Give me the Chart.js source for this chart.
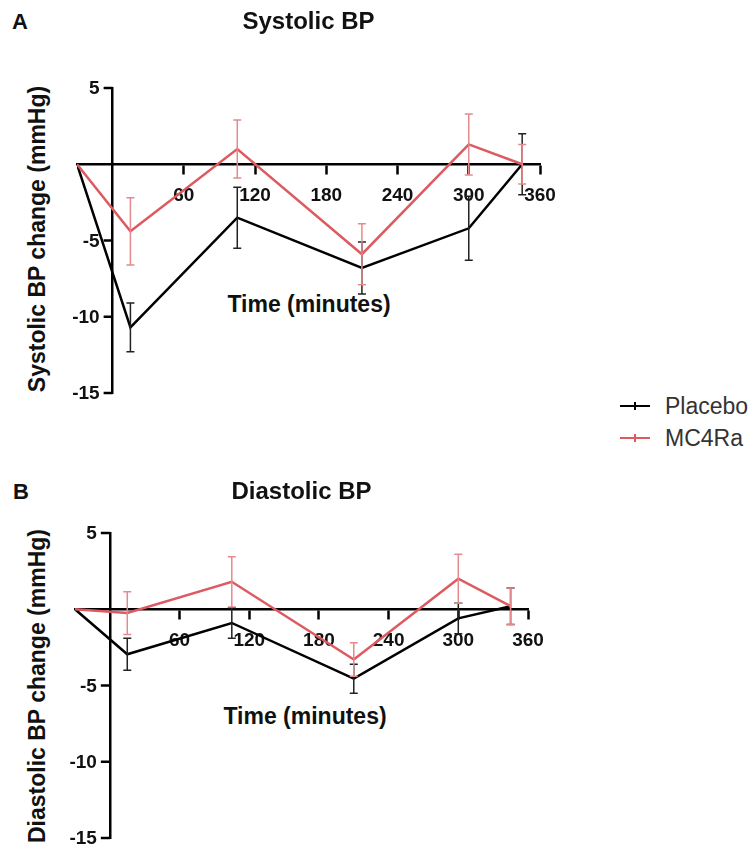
<!DOCTYPE html>
<html>
<head>
<meta charset="utf-8">
<script src="https://cdn.jsdelivr.net/npm/chart.js@4.4.1/dist/chart.umd.min.js"></script>
<style>
  body { margin: 0; background: #fff; width: 753px; height: 847px; position: relative; overflow: hidden;
         font-family: "Liberation Sans", Arial, sans-serif; }
  canvas { position: absolute; left: 0; }
  .txt { position: absolute; font-weight: bold; color: #111; white-space: nowrap; transform: translate(-50%, -50%); }
  .rot { transform: translate(-50%, -50%) rotate(-90deg); }
  .leg { position: absolute; left: 620px; font-size: 23px; color: #333; white-space: nowrap; }
  .leg i { display: inline-block; width: 30px; height: 2px; vertical-align: middle; margin-right: 15px; position: relative; top: -2px; }
  .leg i b { position: absolute; left: 14px; top: -3px; width: 2px; height: 8px; background: inherit; }
</style>
</head>
<body>
<div class="txt" style="left:20px;top:22px;font-size:22px">A</div>
<div class="txt" style="left:21px;top:492px;font-size:22px">B</div>
<div class="txt rot" style="left:37px;top:239px;font-size:23px">Systolic BP change (mmHg)</div>
<div class="txt rot" style="left:37px;top:686px;font-size:23px">Diastolic BP change (mmHg)</div>
<div class="txt" style="left:309px;top:304px;font-size:23px">Time (minutes)</div>
<div class="txt" style="left:305px;top:716px;font-size:23px">Time (minutes)</div>
<div class="leg" style="top:393px"><i style="background:#000"><b></b></i>Placebo</div>
<div class="leg" style="top:425px"><i style="background:#dc5a60"><b></b></i>MC4Ra</div>

<canvas id="sys" width="630" height="430" style="top:0"></canvas>
<canvas id="dia" width="634" height="397" style="top:450px"></canvas>

<script>
// time points (minutes)
const times = [-30, 15, 105, 210, 300, 345];
const xTickValues = [60, 120, 180, 240, 300, 360];
const yTickValues = [5, -5, -10, -15];

// systolic BP change (mmHg), mean and SEM
const sysPlacebo = [0, -10.7, -3.5, -6.8, -4.2, 0];
const sysPlaceboSem = [0, 1.6, 2.0, 1.7, 2.1, 2.0];
const sysMc4ra = [0, -4.4, 1.0, -5.9, 1.3, 0];
const sysMc4raSem = [0, 2.2, 1.9, 2.0, 2.0, 1.3];

// diastolic BP change (mmHg), mean and SEM
const diaPlacebo = [0, -2.95, -0.9, -4.55, -0.6, 0.2];
const diaPlaceboSem = [0, 1.05, 1.0, 0.95, 1.0, 1.2];
const diaMc4ra = [0, -0.25, 1.8, -3.3, 2.0, 0.2];
const diaMc4raSem = [0, 1.4, 1.65, 1.1, 1.6, 1.2];

const RED = '#dc5a60';
const FONT = '"Liberation Sans", Arial, sans-serif';

// draws the SEM bars of each dataset right after its line
const errorBars = {
  id: 'errorBars',
  afterDatasetDraw(chart, args) {
    const ds = chart.data.datasets[args.index];
    const y = chart.scales.y;
    const ctx = chart.ctx;
    ctx.save();
    ctx.strokeStyle = ds.errorColor;
    ctx.lineWidth = 1.5;
    args.meta.data.forEach((pt, j) => {
      const e = ds.sem[j];
      if (!e) return;
      const top = y.getPixelForValue(ds.data[j].y + e);
      const bot = y.getPixelForValue(ds.data[j].y - e);
      ctx.beginPath();
      ctx.moveTo(pt.x, top); ctx.lineTo(pt.x, bot);
      ctx.moveTo(pt.x - 4, top); ctx.lineTo(pt.x + 4, top);
      ctx.moveTo(pt.x - 4, bot); ctx.lineTo(pt.x + 4, bot);
      ctx.stroke();
    });
    ctx.restore();
  }
};

// y axis sits at x = 0, chart.js puts its labels on the line, so draw them here
const yAxisTicks = {
  id: 'yAxisTicks',
  afterDraw(chart) {
    const { ctx, scales: { x, y } } = chart;
    const ax = x.getPixelForValue(0);
    ctx.save();
    ctx.strokeStyle = '#000';
    ctx.lineWidth = 2.5;
    ctx.fillStyle = '#111';
    ctx.font = 'bold 19px ' + FONT;
    ctx.textAlign = 'right';
    ctx.textBaseline = 'middle';
    y.ticks.forEach(t => {
      const py = y.getPixelForValue(t.value);
      ctx.beginPath();
      ctx.moveTo(ax, py); ctx.lineTo(ax - 9, py);
      ctx.stroke();
      ctx.fillText(String(t.value), ax - 13, py + 1);
    });
    ctx.restore();
  }
};

function points(vals) {
  return vals.map((v, i) => ({ x: times[i], y: v }));
}

function makeChart(id, title, titlePad, padding, placebo, placeboSem, mc4ra, mc4raSem) {
  const axisFont = { family: FONT, size: 19, weight: 'bold' };
  return new Chart(document.getElementById(id), {
    type: 'line',
    data: {
      datasets: [
        { label: 'MC4Ra', data: points(mc4ra), sem: mc4raSem, borderColor: RED, errorColor: '#e48a8e',
          borderWidth: 2.5, pointRadius: 0, tension: 0 },
        { label: 'Placebo', data: points(placebo), sem: placeboSem, borderColor: '#000', errorColor: '#222',
          borderWidth: 2.5, pointRadius: 0, tension: 0 }
      ]
    },
    options: {
      responsive: false,
      animation: false,
      layout: { padding: padding },
      plugins: {
        legend: { display: false },
        tooltip: { enabled: false },
        title: {
          display: true,
          text: title,
          color: '#111',
          font: { family: FONT, size: 24, weight: 'bold' },
          padding: titlePad
        }
      },
      scales: {
        x: {
          type: 'linear',
          min: -30,
          max: 360,
          position: { y: 0 },
          afterBuildTicks: (s) => { s.ticks = xTickValues.map(v => ({ value: v })); },
          grid: { drawOnChartArea: false, tickLength: 9, tickWidth: 2.5, tickColor: '#000' },
          border: { color: '#000', width: 2.5 },
          ticks: { font: axisFont, color: '#111', padding: 11, maxRotation: 0 }
        },
        y: {
          type: 'linear',
          min: -15,
          max: 5,
          position: { x: 0 },
          afterBuildTicks: (s) => { s.ticks = yTickValues.map(v => ({ value: v })); },
          grid: { display: false },
          border: { color: '#000', width: 2.5 },
          ticks: { display: false }
        }
      }
    },
    plugins: [errorBars, yAxisTicks]
  });
}

makeChart('sys', 'Systolic BP', { top: 7.6, bottom: 51.6 }, { left: 77, right: 90, bottom: 37 },
  sysPlacebo, sysPlaceboSem, sysMc4ra, sysMc4raSem);
makeChart('dia', 'Diastolic BP', { top: 27.6, bottom: 26.6 }, { left: 75, right: 106, bottom: 9 },
  diaPlacebo, diaPlaceboSem, diaMc4ra, diaMc4raSem);
</script>
</body>
</html>
